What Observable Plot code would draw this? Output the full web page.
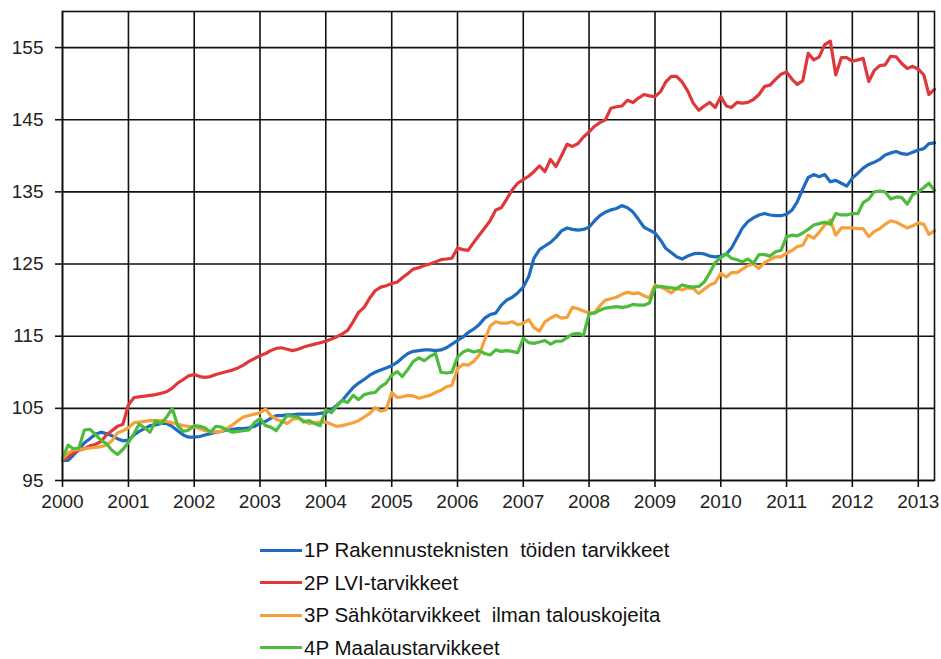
<!DOCTYPE html>
<html>
<head>
<meta charset="utf-8">
<script src="https://cdn.jsdelivr.net/npm/d3@7"></script>
<script src="https://cdn.jsdelivr.net/npm/@observablehq/plot@0.6"></script>
<style>
  html, body { margin: 0; padding: 0; background: #fff; }
  #wrap { position: relative; width: 941px; height: 659px; overflow: hidden; }
  #chart { position: absolute; left: 0; top: 0; }
  #legend { position: absolute; left: 260px; top: 534px; font-family: "Liberation Sans", Arial, sans-serif; font-size: 20.5px; color: #111; }
  .row { display: flex; align-items: center; height: 32.5px; white-space: pre; }
  .sw { display: inline-block; width: 42px; height: 3px; margin-right: 2px; }
</style>
</head>
<body>
<div id="wrap">
  <div id="chart"></div>
  <div id="legend"></div>
</div>
<script>
// Series names and colours
const seriesNames = [
  "1P Rakennusteknisten  töiden tarvikkeet",
  "2P LVI-tarvikkeet",
  "3P Sähkötarvikkeet  ilman talouskojeita",
  "4P Maalaustarvikkeet"
];
const seriesColors = ["#1f6bbf", "#e0383a", "#f6a03a", "#4dbb3b"];

// Monthly index values, Jan 2000 – Apr 2013 (one row per year)
const s1P = [
  97.8, 97.8, 98.5, 99.3, 100.2, 100.8, 101.4, 101.7, 101.5, 101.2, 100.8, 100.5,
  100.6, 101.3, 101.8, 102.2, 102.6, 102.7, 102.9, 102.9, 102.5, 101.9, 101.3, 101.0,
  101.0, 101.1, 101.3, 101.5, 101.7, 101.8, 102.0, 102.1, 102.2, 102.2, 102.3, 102.5,
  102.9, 103.2, 103.6, 104.0, 104.0, 104.1, 104.1, 104.2, 104.2, 104.2, 104.2, 104.3,
  104.4, 104.8, 105.4, 106.1, 107.0, 107.9, 108.5, 109.0, 109.6, 110.0, 110.3, 110.6,
  110.9, 111.4, 112.0, 112.6, 112.9, 113.0, 113.1, 113.1, 113.0, 113.1, 113.4, 113.9,
  114.4, 114.9, 115.5, 116.0, 116.6, 117.5, 118.0, 118.2, 119.3, 120.0, 120.4, 121.0,
  121.8, 123.3, 125.8, 127.0, 127.5, 128.0, 128.7, 129.6, 130.0, 129.8, 129.7, 129.8,
  130.1, 131.0, 131.7, 132.2, 132.5, 132.7, 133.1, 132.8, 132.2, 131.2, 130.1, 129.7,
  129.3, 128.3, 127.2, 126.6, 126.0, 125.7, 126.1, 126.4, 126.5, 126.4, 126.1, 126.0,
  126.1, 126.4, 127.2, 128.6, 130.0, 130.9, 131.4, 131.8, 132.0, 131.8, 131.7, 131.7,
  131.9, 132.5, 133.6, 135.4, 137.0, 137.4, 137.1, 137.4, 136.4, 136.6, 136.2, 135.8,
  136.9, 137.6, 138.3, 138.8, 139.1, 139.5, 140.1, 140.4, 140.6, 140.3, 140.2, 140.5,
  140.8, 141.0, 141.7, 141.8
];
const s2P = [
  97.8, 98.3, 98.8, 99.2, 99.4, 99.8, 100.0, 100.4, 101.3, 101.9, 102.5, 102.8,
  105.5, 106.5, 106.6, 106.7, 106.8, 106.9, 107.1, 107.3, 107.8, 108.5, 109.0, 109.5,
  109.7, 109.4, 109.3, 109.4, 109.7, 109.9, 110.1, 110.3, 110.6, 111.0, 111.5, 111.9,
  112.3, 112.6, 113.0, 113.3, 113.4, 113.2, 113.0, 113.2, 113.5, 113.7, 113.9, 114.1,
  114.3, 114.6, 114.9, 115.3, 115.8, 117.0, 118.3, 119.0, 120.3, 121.3, 121.8, 122.0,
  122.3, 122.5, 123.1, 123.7, 124.3, 124.5, 124.8, 125.0, 125.3, 125.6, 125.7, 125.8,
  127.2, 127.0, 126.9, 128.0, 129.0, 130.0, 131.0, 132.5, 132.8, 134.0, 135.3, 136.2,
  136.7, 137.2, 137.8, 138.6, 137.8, 139.5, 138.5, 140.0, 141.6, 141.3, 141.7, 142.6,
  143.3, 144.1, 144.6, 145.0, 146.6, 146.8, 146.9, 147.7, 147.4, 148.0, 148.5, 148.3,
  148.2, 148.9, 150.2, 151.0, 151.0, 150.2, 149.0, 147.3, 146.3, 146.9, 147.4, 146.7,
  148.2, 146.9, 146.7, 147.4, 147.3, 147.4, 147.8, 148.5, 149.6, 149.8, 150.6, 151.3,
  151.6, 150.6, 149.9, 150.4, 154.2, 153.3, 153.7, 155.4, 155.9, 151.2, 153.6, 153.6,
  153.1, 153.3, 153.5, 150.3, 151.8, 152.5, 152.6, 153.8, 153.7, 152.8, 152.1, 152.4,
  152.0, 151.2, 148.5, 149.2
];
const s3P = [
  98.0, 98.8, 99.2, 99.3, 99.4, 99.5, 99.6, 99.7, 99.9, 100.5, 101.6, 101.9,
  102.3, 103.0, 103.1, 103.2, 103.3, 103.3, 103.3, 103.2, 103.0, 102.8, 102.6, 102.5,
  102.4, 102.2, 101.9, 101.8, 101.7, 101.8, 102.2, 102.7, 103.3, 103.8, 104.0, 104.2,
  104.4, 104.9, 104.0, 103.5, 103.2, 102.9, 103.5, 103.6, 103.3, 102.9, 103.0, 103.1,
  103.1, 102.8, 102.5, 102.6, 102.8, 103.0, 103.3, 103.8, 104.3, 105.1, 104.6, 104.8,
  107.2, 106.5, 106.6, 106.8, 106.7, 106.4, 106.6, 106.8, 107.2, 107.5, 108.0, 108.2,
  110.5, 111.1, 111.0, 111.5, 112.4, 114.5, 116.4, 117.0, 116.8, 116.8, 117.0, 116.6,
  116.8, 117.3, 116.2, 115.7, 117.0, 117.5, 117.9, 117.5, 117.6, 119.0, 118.8, 118.5,
  118.2, 118.3, 119.2, 120.0, 120.2, 120.4, 120.8, 121.1, 120.9, 121.0, 120.6, 120.3,
  122.1, 121.8, 121.5, 121.0, 121.6, 121.4, 121.7, 121.6, 120.9, 121.5, 122.1, 122.4,
  123.7, 123.2, 123.8, 123.8, 124.3, 124.8, 125.0, 124.4, 125.2, 125.6, 126.0, 126.0,
  126.5, 126.9, 127.4, 127.6, 129.0, 128.6, 129.4, 130.4, 131.1, 129.0, 130.0, 130.0,
  130.0, 129.9, 129.9, 128.8, 129.5, 129.9, 130.5, 131.0, 130.8, 130.4, 130.0, 130.3,
  130.7, 130.5, 129.1, 129.6
];
const s4P = [
  98.0, 99.9, 99.4, 99.5, 102.0, 102.1, 101.4, 100.6, 100.1, 99.2, 98.6, 99.3,
  100.3, 101.5, 102.8, 102.3, 101.7, 103.3, 102.9, 103.8, 105.0, 102.6, 101.8, 102.0,
  102.6, 102.5, 102.3, 101.7, 102.5, 102.4, 102.0, 101.7, 101.8, 101.9, 102.0, 103.0,
  103.6, 102.6, 102.4, 101.9, 103.0, 104.0, 103.9, 103.8, 103.1, 103.3, 102.9, 102.6,
  104.8, 104.4, 105.3, 106.1, 105.8, 106.8, 106.2, 106.9, 107.1, 107.2, 108.0, 108.5,
  109.6, 110.1, 109.4, 110.4, 111.5, 112.0, 111.6, 112.2, 112.6, 110.0, 109.9, 110.0,
  112.1, 112.8, 113.1, 112.8, 113.0, 112.6, 112.4, 113.1, 112.9, 113.0, 112.9, 112.7,
  114.7, 114.1, 114.0, 114.2, 114.4, 113.9, 114.3, 114.3, 114.8, 115.3, 115.4, 115.1,
  118.1, 118.2, 118.6, 118.9, 119.0, 119.1, 119.0, 119.1, 119.4, 119.3, 119.3, 119.6,
  121.8, 121.9, 121.8, 121.7, 121.6, 122.1, 121.9, 121.8, 121.9, 122.5, 123.8, 125.2,
  125.9, 126.4, 125.8, 125.6, 125.3, 125.7, 125.1, 126.3, 126.3, 126.1, 126.7, 126.9,
  128.8, 129.0, 128.9, 129.3, 129.8, 130.4, 130.6, 130.8, 130.5, 132.0, 131.8, 131.8,
  132.0, 132.0, 133.5, 134.0, 135.0, 135.1, 135.0, 134.0, 134.3, 134.2, 133.3, 134.6,
  135.0, 135.6, 136.2, 135.2
];

// Axis ticks
const yTicks = [95, 105, 115, 125, 135, 145, 155];
const xTickYears = [2000, 2001, 2002, 2003, 2004, 2005, 2006, 2007, 2008, 2009, 2010, 2011, 2012, 2013];

const seriesValues = [s1P, s2P, s3P, s4P];
const data = seriesValues.flatMap((vals, k) =>
  vals.map((v, i) => ({ date: new Date(Date.UTC(2000, i, 1)), value: v, series: seriesNames[k] }))
);
const xTicks = xTickYears.map(y => new Date(Date.UTC(y, 0, 1)));
const lastDate = new Date(Date.UTC(2000, s1P.length - 1, 1));

const chart = Plot.plot({
  width: 941,
  height: 520,
  marginLeft: 62,
  marginRight: 7,
  marginTop: 11,
  marginBottom: 40,
  style: { fontFamily: "'Liberation Sans', Arial, sans-serif", fontSize: "19px", color: "#222", background: "#fff" },
  x: { type: "utc", domain: [new Date(Date.UTC(2000, 0, 1)), lastDate] },
  y: { domain: [95, 160] },
  color: { domain: seriesNames, range: seriesColors },
  marks: [
    Plot.gridX(xTicks, { stroke: "#111", strokeOpacity: 1, strokeWidth: 1.6 }),
    Plot.gridY(yTicks, { stroke: "#111", strokeOpacity: 1, strokeWidth: 1.6 }),
    Plot.lineY(data, { x: "date", y: "value", z: "series", stroke: "series", strokeWidth: 3.2, strokeLinejoin: "round", strokeLinecap: "round" }),
    Plot.frame({ stroke: "#111", strokeWidth: 1.6 }),
    Plot.axisY(yTicks, { tickSize: 7, tickPadding: 12, stroke: "#111", strokeWidth: 1.6, label: null, fontSize: 19 }),
    Plot.axisX(xTicks, { tickSize: 7, tickPadding: 7, tickFormat: d3.utcFormat("%Y"), stroke: "#111", strokeWidth: 1.6, label: null, fontSize: 19 })
  ]
});
document.getElementById("chart").appendChild(chart);

const legend = document.getElementById("legend");
seriesNames.forEach((name, k) => {
  const row = document.createElement("div");
  row.className = "row";
  const sw = document.createElement("span");
  sw.className = "sw";
  sw.style.background = seriesColors[k];
  const tx = document.createElement("span");
  tx.textContent = name;
  row.appendChild(sw);
  row.appendChild(tx);
  legend.appendChild(row);
});
</script>
</body>
</html>
